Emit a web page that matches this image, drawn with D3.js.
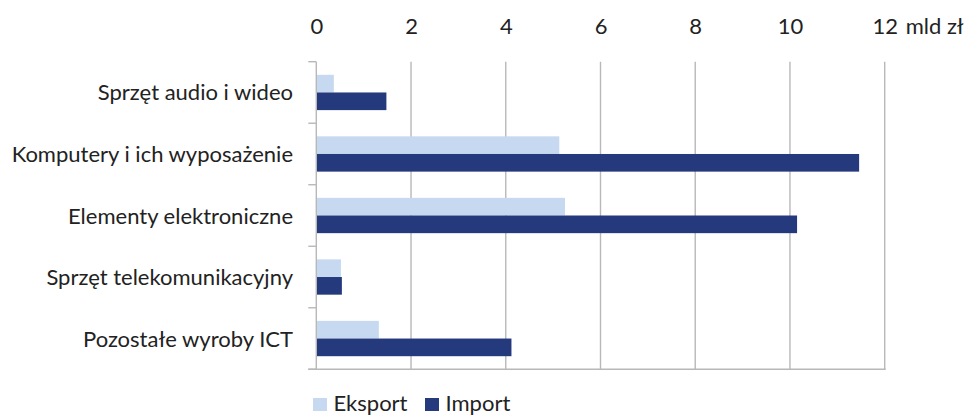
<!DOCTYPE html>
<html>
<head>
<meta charset="utf-8">
<script src="https://cdn.jsdelivr.net/npm/d3@7"></script>
<style>
  html, body { margin: 0; padding: 0; background: #fff; }
  svg { display: block; font-family: Lato, "Open Sans", sans-serif; }
</style>
</head>
<body>
<svg id="chart" width="966" height="416"></svg>
<script>
const categories = [
  "Sprzęt audio i wideo",
  "Komputery i ich wyposażenie",
  "Elementy elektroniczne",
  "Sprzęt telekomunikacyjny",
  "Pozostałe wyroby ICT"
];
const seriesNames = ["Eksport", "Import"];
const eksport = [0.37, 5.13, 5.25, 0.52, 1.32];
const importVals = [1.48, 11.46, 10.15, 0.54, 4.12];
const tickValues = [0, 2, 4, 6, 8, 10, 12];
const unitLabel = "mld zł";
const colors = ["#c6d9f0", "#253a7d"];

(function () {
const svg = d3.select("#chart");
const pLeft = 316.3, pRight = 884.7, pTop = 61.7, pBottom = 369.3;
const textColor = "#222";
const gridColor = "#b8b8b8";
const fs = 22;

const x = d3.scaleLinear().domain([0, 12]).range([pLeft, pRight]);
const y0 = d3.scaleBand().domain(categories).range([pTop, pBottom])
  .paddingInner(0.426).paddingOuter(0.213);
const y1 = d3.scaleBand().domain(seriesNames).range([0, y0.bandwidth()]).padding(0);

const data = categories.map((c, i) => ({
  cat: c,
  values: [
    { key: "Eksport", value: eksport[i] },
    { key: "Import", value: importVals[i] }
  ]
}));

// gridlines
svg.append("g").selectAll("line")
  .data(tickValues.filter(d => d > 0))
  .join("line")
  .attr("x1", d => x(d)).attr("x2", d => x(d))
  .attr("y1", pTop).attr("y2", pBottom)
  .attr("stroke", gridColor).attr("stroke-width", 1.4);

// top axis labels
const xAxis = d3.axisTop(x).tickValues(tickValues).tickSize(0).tickPadding(0);
const gx = svg.append("g").attr("transform", `translate(0, 34)`).call(xAxis);
gx.select(".domain").remove();
gx.selectAll("text")
  .attr("font-family", "Lato, 'Open Sans', sans-serif")
  .attr("font-size", fs).attr("fill", textColor).attr("dy", 0);
svg.append("text")
  .attr("x", x(12) + 21).attr("y", 34)
  .attr("font-size", fs).attr("fill", textColor)
  .text(unitLabel);

// bars
const groups = svg.append("g").selectAll("g")
  .data(data).join("g")
  .attr("transform", d => `translate(0, ${y0(d.cat)})`);
groups.selectAll("rect")
  .data(d => d.values).join("rect")
  .attr("x", x(0))
  .attr("y", d => y1(d.key))
  .attr("width", d => x(d.value) - x(0))
  .attr("height", y1.bandwidth())
  .attr("fill", (d, i) => colors[i]);

// left axis line with boundary ticks
const boundaries = categories.map(c => y0(c) - y0.step() * y0.paddingInner() / 2);
boundaries.push(pBottom);
svg.append("line")
  .attr("x1", pLeft).attr("x2", pLeft).attr("y1", pTop).attr("y2", pBottom)
  .attr("stroke", gridColor).attr("stroke-width", 1.4);
svg.append("g").selectAll("line")
  .data(boundaries).join("line")
  .attr("x1", pLeft - 8).attr("x2", pLeft)
  .attr("y1", d => d).attr("y2", d => d)
  .attr("stroke", gridColor).attr("stroke-width", 1.4);
// bottom line
svg.append("line")
  .attr("x1", pLeft - 8).attr("x2", pRight + 1).attr("y1", pBottom).attr("y2", pBottom)
  .attr("stroke", gridColor).attr("stroke-width", 1.4);

// category labels
svg.append("g").selectAll("text")
  .data(categories).join("text")
  .attr("x", 293)
  .attr("y", d => y0(d) + y0.bandwidth() / 2 + 8)
  .attr("text-anchor", "end")
  .attr("font-size", fs).attr("fill", textColor)
  .text(d => d);

// legend
const legendX = [313, 425];
const lg = svg.append("g").selectAll("g")
  .data(seriesNames).join("g")
  .attr("transform", (d, i) => `translate(${legendX[i]}, 398)`);
lg.append("rect").attr("width", 14).attr("height", 13)
  .attr("fill", (d, i) => colors[i]);
lg.append("text").attr("x", 20.5).attr("y", 12.5)
  .attr("font-size", fs).attr("fill", textColor)
  .text(d => d);
})();
</script>
</body>
</html>
